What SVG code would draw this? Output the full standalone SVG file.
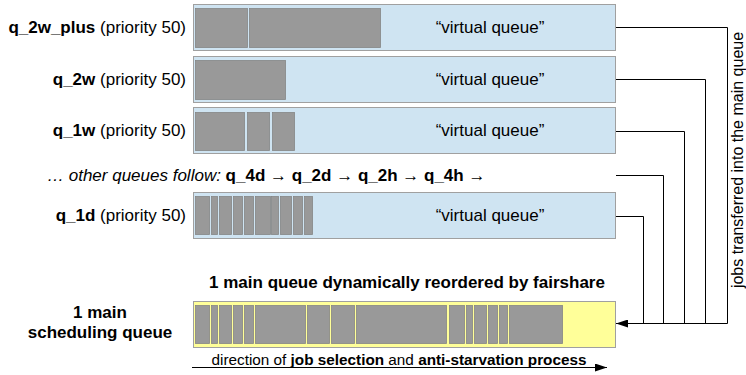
<svg xmlns="http://www.w3.org/2000/svg" width="746" height="375" viewBox="0 0 746 375">
  <defs>
    <marker id="arrow" viewBox="0 0 12 8" refX="12" refY="4" markerWidth="12" markerHeight="8" markerUnits="userSpaceOnUse" orient="auto">
      <path d="M0,0 L12,4 L0,8 Z" fill="#000"/>
    </marker>
  </defs>
  <style>
    text { font-family: "Liberation Sans", Arial, sans-serif; fill: #000; }
    .lbl { font-size: 17px; text-anchor: end; }
    .b { font-weight: bold; }
    .vq { font-size: 17px; text-anchor: middle; }
    .queue { fill: #cfe4f2; stroke: #a0a0a0; stroke-width: 1; }
    .main { fill: #ffff99; stroke: #a0a0a0; stroke-width: 1; }
    .job { fill: #999999; stroke: #858585; stroke-width: 0.8; }
    .conn { fill: none; stroke: #000; stroke-width: 1; }
  </style>

  <rect width="746" height="375" fill="#ffffff"/>

  <!-- q_2w_plus -->
  <g id="q_2w_plus">
    <text class="lbl" x="186" y="33"><tspan class="b">q_2w_plus</tspan> (priority 50)</text>
    <rect class="queue" x="193.5" y="4.5" width="422" height="46"/>
    <rect class="job" x="195.5" y="8.5" width="52" height="39"/>
    <rect class="job" x="249.5" y="8.5" width="131" height="39"/>
    <text class="vq" x="490" y="33">“virtual queue”</text>
  </g>

  <!-- q_2w -->
  <g id="q_2w">
    <text class="lbl" x="186" y="85"><tspan class="b">q_2w</tspan> (priority 50)</text>
    <rect class="queue" x="193.5" y="56.5" width="422" height="46"/>
    <rect class="job" x="195.5" y="60.5" width="90" height="39"/>
    <text class="vq" x="490" y="85">“virtual queue”</text>
  </g>

  <!-- q_1w -->
  <g id="q_1w">
    <text class="lbl" x="186" y="136"><tspan class="b">q_1w</tspan> (priority 50)</text>
    <rect class="queue" x="193.5" y="107.5" width="422" height="46"/>
    <rect class="job" x="195.5" y="112.5" width="49" height="38"/>
    <rect class="job" x="247.5" y="112.5" width="22" height="38"/>
    <rect class="job" x="272.5" y="112.5" width="22" height="38"/>
    <text class="vq" x="490" y="136">“virtual queue”</text>
  </g>

  <!-- remaining queues -->
  <g id="other_queues">
    <text x="47" y="181" style="font-size:17px"><tspan font-style="italic">… other queues follow: </tspan><tspan class="b">q_4d</tspan> → <tspan class="b">q_2d</tspan> → <tspan class="b">q_2h</tspan> → <tspan class="b">q_4h</tspan> →</text>
  </g>

  <!-- q_1d -->
  <g id="q_1d">
    <text class="lbl" x="186" y="221"><tspan class="b">q_1d</tspan> (priority 50)</text>
    <rect class="queue" x="193.5" y="192.5" width="422" height="46"/>
    <rect class="job" x="195.5" y="196.5" width="14" height="38"/>
    <rect class="job" x="211.5" y="196.5" width="6" height="38"/>
    <rect class="job" x="219.5" y="196.5" width="12" height="38"/>
    <rect class="job" x="233.5" y="196.5" width="9" height="38"/>
    <rect class="job" x="244.5" y="196.5" width="9" height="38"/>
    <rect class="job" x="255.5" y="196.5" width="15" height="38"/>
    <rect class="job" x="271.5" y="196.5" width="7" height="38"/>
    <rect class="job" x="280.5" y="196.5" width="11" height="38"/>
    <rect class="job" x="293.5" y="196.5" width="9" height="38"/>
    <rect class="job" x="304.5" y="196.5" width="8" height="38"/>
    <text class="vq" x="490" y="221">“virtual queue”</text>
  </g>

  <!-- main scheduling queue -->
  <g id="main_queue">
    <text class="b" x="407" y="288" style="font-size:17px" text-anchor="middle">1 main queue dynamically reordered by fairshare</text>
    <text class="b" x="100" y="318" style="font-size:17px" text-anchor="middle">1 main</text>
    <text class="b" x="100" y="338" style="font-size:17px" text-anchor="middle">scheduling queue</text>
    <rect class="main" x="193.5" y="301.5" width="422" height="46"/>
    <rect class="job" x="195.5" y="305.5" width="14" height="38"/>
    <rect class="job" x="211.5" y="305.5" width="6" height="38"/>
    <rect class="job" x="219.5" y="305.5" width="12" height="38"/>
    <rect class="job" x="233.5" y="305.5" width="9" height="38"/>
    <rect class="job" x="244.5" y="305.5" width="9" height="38"/>
    <rect class="job" x="255.5" y="305.5" width="50" height="38"/>
    <rect class="job" x="307.5" y="305.5" width="22" height="38"/>
    <rect class="job" x="331.5" y="305.5" width="23" height="38"/>
    <rect class="job" x="356.5" y="305.5" width="90" height="38"/>
    <rect class="job" x="449.5" y="305.5" width="15" height="38"/>
    <rect class="job" x="466.5" y="305.5" width="6" height="38"/>
    <rect class="job" x="474.5" y="305.5" width="12" height="38"/>
    <rect class="job" x="488.5" y="305.5" width="9" height="38"/>
    <rect class="job" x="499.5" y="305.5" width="8" height="38"/>
    <rect class="job" x="509.5" y="305.5" width="53" height="38"/>
  </g>

  <!-- job selection direction -->
  <g id="direction">
    <text x="399" y="365" style="font-size:15.3px" text-anchor="middle">direction of <tspan class="b">job selection</tspan> and <tspan class="b">anti-starvation process</tspan></text>
    <line class="conn" x1="192" y1="367.5" x2="607" y2="367.5" marker-end="url(#arrow)"/>
  </g>

  <!-- transfers from each queue into the main queue -->
  <g id="connectors">
    <polyline class="conn" points="616,27.5 727.5,27.5 727.5,323.5"/>
    <polyline class="conn" points="616,79.5 705.5,79.5 705.5,323.5"/>
    <polyline class="conn" points="616,131.5 684.5,131.5 684.5,323.5"/>
    <polyline class="conn" points="616,175.5 663.5,175.5 663.5,323.5"/>
    <polyline class="conn" points="616,216.5 643.5,216.5 643.5,323.5"/>
    <line class="conn" x1="727.5" y1="323.5" x2="616" y2="323.5" marker-end="url(#arrow)"/>
    <text x="743" y="160" style="font-size:16px" text-anchor="middle" transform="rotate(-90 743 160)">jobs transferred into the main queue</text>
  </g>
</svg>
